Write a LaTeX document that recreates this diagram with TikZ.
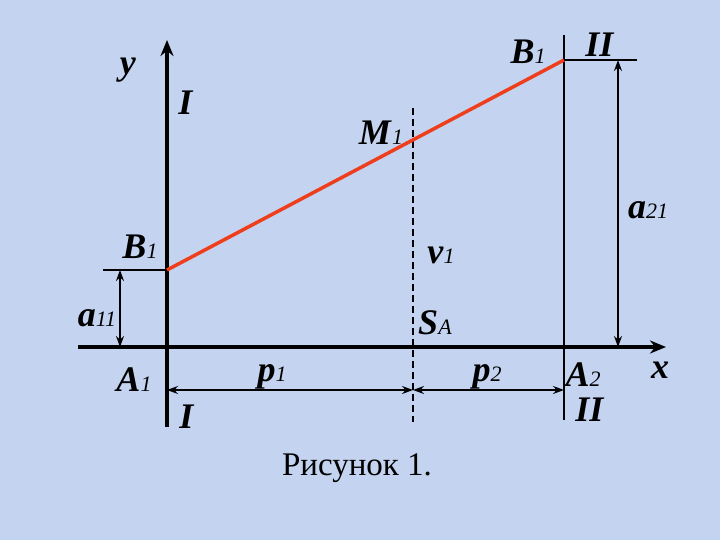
\documentclass[tikz,border=0pt]{standalone}
\usepackage{fontspec}
\setmainfont{Liberation Serif}
\usepackage{tikz}
\usetikzlibrary{arrows.meta}
\definecolor{bgblue}{RGB}{196,212,240}
\definecolor{seg}{RGB}{238,62,28}
\newcommand{\lbl}[2]{\textbf{\textit{#1}}{\fontsize{22}{22}\selectfont\textit{#2}}}
\tikzset{
  lab/.style={font=\fontsize{36}{36}\selectfont, inner sep=0pt},
  axis/.style={line width=3.5pt, -{Stealth[length=16pt,width=13pt]}},
  thin/.style={line width=1.6pt},
  dim/.style={line width=1.6pt, {Stealth[length=11pt,width=8pt]}-{Stealth[length=11pt,width=8pt]}}
}

\begin{document}
\begin{tikzpicture}[x=1pt,y=-1pt]
    		% Background and frame:
    		\fill[bgblue] (0,0) rectangle (720,540);
    		\useasboundingbox (0,0) rectangle (720,540);
    		% Points:
    		\coordinate (O1) at (167,427);
    		\coordinate (Ytop) at (167,40);
    		\coordinate (Xl) at (78,347);
    		\coordinate (Xr) at (666,347);
    		\coordinate (B1l) at (167,270);
    		\coordinate (B1r) at (564,60);
    		\coordinate (IIt) at (564,35);
    		\coordinate (IIb) at (564,420);
    		\coordinate (Tl) at (103,270);
    		\coordinate (Tr) at (637,60);
    		\coordinate (Da) at (413,108);
    		\coordinate (Db) at (413,422);
    		\coordinate (A11t) at (120,270);
    		\coordinate (A11b) at (120,347);
    		\coordinate (A21t) at (618,60);
    		\coordinate (A21b) at (618,347);
    		\coordinate (P1a) at (167,390);
    		\coordinate (P1b) at (413,390);
    		\coordinate (P2b) at (564,390);
    		% Paths and wires:
    		\draw[axis] (O1) -- (Ytop);
    		\draw[axis] (Xl) -- (Xr);
    		\draw[thin] (IIt) -- (IIb);
    		\draw[thin] (Tl) -- (B1l);
    		\draw[thin] (B1r) -- (Tr);
    		\draw[thin, dashed, dash pattern=on 7pt off 4pt] (Da) -- (Db);
    		\draw[dim] (A11t) -- (A11b);
    		\draw[dim] (A21t) -- (A21b);
    		\draw[dim] (P1a) -- (P1b);
    		\draw[dim] (P1b) -- (P2b);
    		\draw[seg, line width=3.5pt] (B1l) -- (B1r);
    		% Labels:
    		\node[lab](Ly) at (128,70){\textbf{\textit{y}}};
    		\node[lab](LIt) at (186,103){\textbf{\textit{I}}};
    		\node[lab](LB1t) at (528,52){\lbl{B}{1}};
    		\node[lab](LIIt) at (600,45){\textbf{\textit{II}}};
    		\node[lab](LM1) at (381,133){\lbl{M}{1}};
    		\node[lab](La21) at (648,210){\lbl{a}{21}};
    		\node[lab](Lnu) at (441,255){\lbl{ν}{1}};
    		\node[lab](LB1l) at (140,247){\lbl{B}{1}};
    		\node[lab](La11) at (97,318){\lbl{a}{11}};
    		\node[lab](LSA) at (435,323){\lbl{S}{A}};
    		\node[lab](LA1) at (134,380){\lbl{A}{1}};
    		\node[lab](Lp1) at (272,377){\lbl{p}{1}};
    		\node[lab](Lp2) at (487,377){\lbl{p}{2}};
    		\node[lab](LA2) at (583,375){\lbl{A}{2}};
    		\node[lab](Lx) at (660,370){\textbf{\textit{x}}};
    		\node[lab](LIb) at (187,417){\textbf{\textit{I}}};
    		\node[lab](LIIb) at (590,410){\textbf{\textit{II}}};
    		\node[lab, font=\fontsize{33}{33}\selectfont](Cap) at (357,468){Рисунок 1.};
    	\end{tikzpicture}
\end{document}
